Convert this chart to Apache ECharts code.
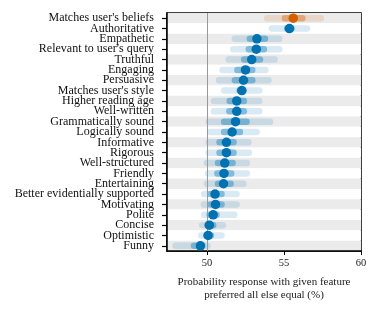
<!DOCTYPE html>
<html><head><meta charset="utf-8">
<script src="https://cdn.jsdelivr.net/npm/echarts@6/dist/echarts.min.js"></script>
<style>html,body{margin:0;padding:0;background:#fff}#c{width:381px;height:314px}</style>
</head><body><div id="c"></div>
<script>
const categories = ["Matches user's beliefs","Authoritative","Empathetic","Relevant to user's query","Truthful","Engaging","Persuasive","Matches user's style","Higher reading age","Well-written","Grammatically sound","Logically sound","Informative","Rigorous","Well-structured","Friendly","Entertaining","Better evidentially supported","Motivating","Polite","Concise","Optimistic","Funny"];
const median    = [55.6,55.35,53.24,53.2,52.9,52.5,52.37,52.26,51.93,51.93,51.85,51.63,51.26,51.26,51.15,51.1,51.07,50.52,50.55,50.4,50.15,50.07,49.57];
const innerLow  = [54.85,55.0,52.57,52.5,52.2,51.76,51.6,51.9,51.26,51.24,50.9,50.9,50.6,50.6,50.5,50.46,50.5,50.02,50.02,49.96,49.83,49.76,48.94];
const innerHigh = [56.4,55.7,53.97,53.9,53.65,53.15,53.15,52.57,52.6,52.6,52.78,52.35,51.93,51.93,51.87,51.78,51.74,51.15,51.15,50.83,50.61,50.46,49.9];
const outerLow  = [53.7,54.0,51.6,51.5,51.2,50.8,50.57,50.9,50.24,50.24,49.9,49.98,49.9,49.9,49.78,49.85,49.78,49.6,49.58,49.6,49.48,49.41,47.75];
const outerHigh = [57.6,56.7,54.9,54.9,54.6,54.0,54.2,53.6,53.6,53.6,54.3,53.43,52.9,52.93,52.8,52.8,52.57,52.13,52.13,51.98,51.24,51.15,50.24];
const xTicks = [50,55,60];

const BLUE = '#0072B2', ORANGE = '#D55E00';
function rgba(hex,a){const n=parseInt(hex.slice(1),16);return `rgba(${n>>16},${(n>>8)&255},${n&255},${a})`;}
const colorOf = i => i===0 ? ORANGE : BLUE;

function bandSeries(lo, hi, alpha, h){
  return {
    type:'custom',
    encode:{x:[0,1],y:2},
    data: lo.map((v,i)=>[v,hi[i],i]),
    renderItem:(params,api)=>{
      const i = api.value(2);
      const a = api.coord([api.value(0), i]);
      const b = api.coord([api.value(1), i]);
      return {type:'rect', shape:{x:a[0], y:a[1]-h/2, width:b[0]-a[0], height:h, r:h/2},
        style:{fill: rgba(colorOf(i), alpha)}};
    },
    z:2
  };
}

const chart = echarts.init(document.getElementById('c'), null, {renderer:'canvas'});
const FONT = '"Liberation Serif", "DejaVu Serif", serif';
chart.setOption({
  animation:false,
  grid:{left:167, top:13, width:194, height:238, show:true, borderColor:'#000', borderWidth:1.5, backgroundColor:'transparent'},
  xAxis:{
    type:'value', min:47.4, max:60, interval:5,
    axisLine:{show:true, lineStyle:{color:'#000', width:1.5}},
    axisTick:{show:true, length:4, lineStyle:{color:'#000'}, customValues:xTicks},
    axisLabel:{fontFamily:FONT, fontSize:10.5, color:'#222', margin:7, customValues:xTicks},
    splitLine:{show:false},
    name:"Probability response with given feature\npreferred all else equal (%)",
    nameLocation:'middle', nameGap:25,
    nameTextStyle:{fontFamily:FONT, fontSize:11, color:'#222', lineHeight:12.5, verticalAlign:'top'}
  },
  yAxis:{
    type:'category', data:categories, inverse:true,
    axisLine:{show:true, lineStyle:{color:'#000', width:1.5}},
    axisTick:{show:true, length:5, alignWithLabel:true, lineStyle:{color:'#000', width:1.2}},
    axisLabel:{fontFamily:FONT, fontSize:12, color:'#111', margin:13, interval:0},
    splitArea:{show:true, areaStyle:{color:['#ebebeb','#ffffff']}},
    splitLine:{show:false}
  },
  series:[
    {type:'line', data:[], markLine:{silent:true, symbol:'none', label:{show:false},
      lineStyle:{color:'#999', width:1, type:'solid'}, data:[{xAxis:50}]}, z:1},
    bandSeries(outerLow, outerHigh, 0.15, 6.5),
    bandSeries(innerLow, innerHigh, 0.4, 6.5),
    {type:'scatter', symbolSize:9.5, z:5,
      data: median.map((v,i)=>({value:[v,i], itemStyle:{color:colorOf(i), opacity:1}}))}
  ]
});
</script></body></html>
